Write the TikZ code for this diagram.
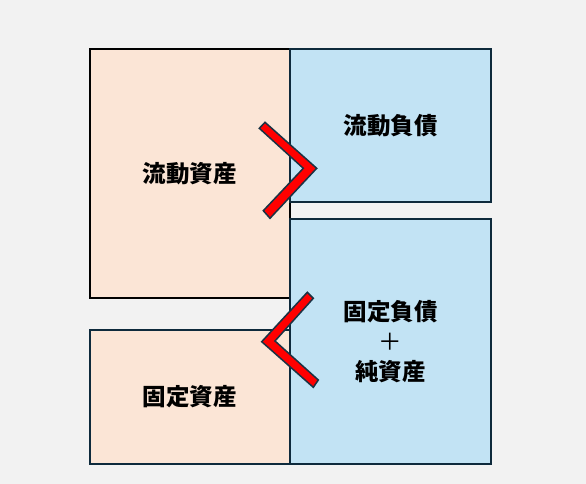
\documentclass[tikz,border=0pt]{standalone}
\usepackage{fontspec}
\newfontfamily\cjk{Noto Sans CJK JP}
\definecolor{bg}{HTML}{F2F2F2}
\definecolor{peach}{HTML}{FBE5D6}
\definecolor{skyb}{HTML}{C2E3F4}
\definecolor{navy}{HTML}{0E2A3C}
\definecolor{chevred}{HTML}{FF0000}
\definecolor{chevline}{HTML}{1A3344}
\tikzset{
  box/.style={draw, line width=2pt, inner sep=0pt, anchor=north west,
    font=\cjk\bfseries\fontsize{23.5}{30}\selectfont, align=center, text=black},
  leftbox/.style={box, fill=peach},
  rightbox/.style={box, fill=skyb, draw=navy},
  chev/.style={fill=chevred, draw=chevline, line width=1.5pt, line join=miter}
}
\begin{document}
\begin{tikzpicture}[x=1pt,y=-1pt]
\fill[bg] (0,0) rectangle (586,484);
\useasboundingbox (0,0) rectangle (586,484);
\node[leftbox, draw=black, minimum width=200.5pt, minimum height=248pt] (ca) at (88.5,48.5) {流動資産};
\node[leftbox, draw=navy, minimum width=200.5pt, minimum height=133.4pt] (fa) at (88.5,329.3) {固定資産};
\node[rightbox, minimum width=201pt, minimum height=152.2pt] (cl) at (289,48.5) {流動負債};
\node[rightbox, minimum width=201pt, minimum height=244.4pt] (fl) at (289,218.3) {固定負債\\{\mdseries ＋}\\純資産};
\draw[chev] (265,122.3) -- (316.7,168.3) -- (270,218.3) -- (263.3,210.7) -- (303.3,168.3) -- (259.3,128.3) -- cycle;
\draw[chev] (307.3,292.3) -- (313.3,298.3) -- (275,341) -- (318.3,380) -- (313.3,387.3) -- (261.7,341.7) -- cycle;
\end{tikzpicture}
\end{document}
